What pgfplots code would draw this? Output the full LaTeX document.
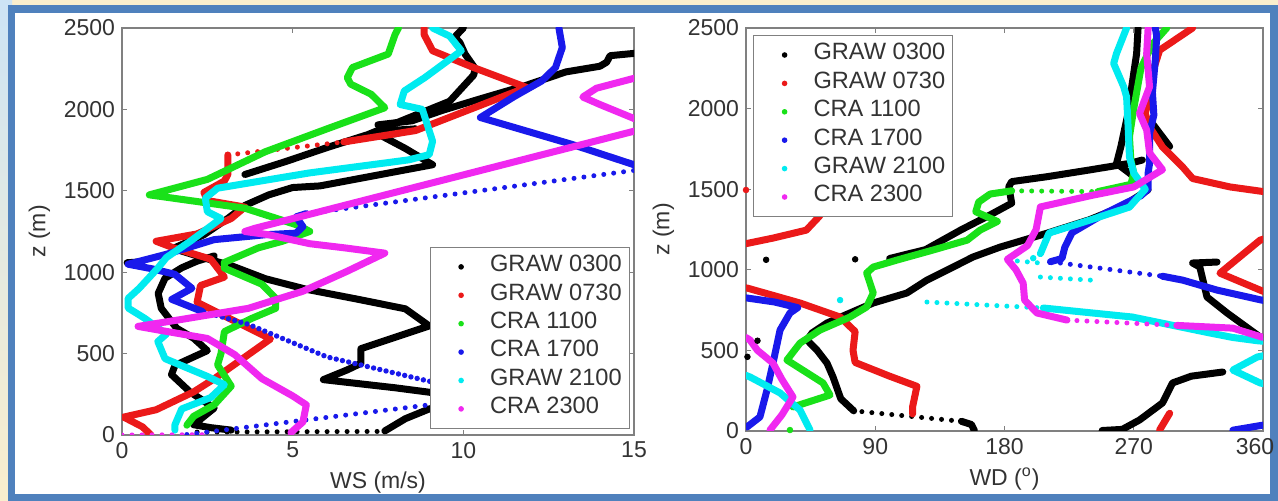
\documentclass[border=0pt]{standalone}
\usepackage{fontspec}
\setmainfont{Liberation Sans}
\usepackage{pgfplots}
\pgfplotsset{compat=1.18}

\definecolor{axgray}{RGB}{128,128,128}
\definecolor{lbl}{RGB}{51,51,51}
\definecolor{mred}{RGB}{235,25,25}
\definecolor{mgreen}{RGB}{25,225,25}
\definecolor{mblue}{RGB}{25,25,235}
\definecolor{mcyan}{RGB}{0,235,240}
\definecolor{mmag}{RGB}{240,40,240}
\definecolor{frameblue}{RGB}{79,129,189}
\definecolor{bgyel}{RGB}{250,238,205}
\definecolor{bgblue}{RGB}{205,228,245}

\tikzset{
  ser/.style={line width=3.5pt, line join=round, line cap=round, mark=none},
  sp/.style={line width=2.5pt, line cap=round, dash pattern=on 0pt off 5pt, mark=none},
  spd/.style={line width=2.7pt, line cap=round, dash pattern=on 0pt off 3.2pt, mark=none},
  dots/.style={only marks, mark=*, mark size=1.4pt},
}
\newcommand{\lfont}{\fontsize{11.5}{13}\selectfont}
\newcommand{\legfont}{\fontsize{11.8}{13}\selectfont}

\pgfplotsset{
  profile/.style={
    scale only axis,
    axis line style={draw=axgray, line width=0.6pt},
    tick style={draw=axgray, line width=0.6pt},
    major tick length=2.5pt,
    tick align=inside,
    tick label style={font=\lfont, text=lbl},
    label style={font=\lfont, text=lbl},
    /pgf/number format/assume math mode=true,
    /pgf/number format/1000 sep={},
    ymin=0, ymax=2500, ytick={0,500,1000,1500,2000,2500},
    ylabel={z (m)},
    clip=true,
    legend image code/.code={%
      \path[draw=none, fill=none] (0pt,-3pt) rectangle (26.2pt,3pt);
      \fill[draw=none] (11.7pt,0pt) circle (1.4pt);},
    legend cell align=left,
  },
  profleg/.style={
    legend style={draw=axgray, line width=0.6pt, fill=white, font=\legfont, text=lbl,
      inner xsep=3.8pt, inner ysep=2.6pt,
      nodes={inner xsep=0pt, inner ysep=0pt, text height=9.5pt, text depth=4.7pt}},
  },
}

\begin{document}
\begin{tikzpicture}[x=1pt,y=1pt]
\useasboundingbox (0,0) rectangle (639,250.5);
% slide background and frame
\fill[bgyel] (0,0) rectangle (639,250.5);
\shade[top color=bgblue, bottom color=bgyel] (0,0) rectangle (6,250.5);
\fill[white] (5.75,1.5) rectangle (637,246);
\draw[frameblue, line width=3.8pt] (5.75,1.5) rectangle (637,246);

% ---------------- wind speed ----------------
\begin{axis}[profile, profleg,
  at={(61pt,33pt)}, anchor=south west, width=256pt, height=203.5pt,
  xmin=0, xmax=15, xtick={0,5,10,15},
  xlabel={WS (m/s)},
  legend style={at={(axis description cs:0.992,0.015)}, anchor=south east},
]
% GRAW 0300
\addplot[ser, black] coordinates {(7.7,25) (8.3,100) (9.0,160) (10.0,205) (10.2,230) (8.0,290) (5.9,340) (6.6,400) (7.0,440) (7.0,530) (9.0,670) (8.3,775) (7.0,830) (5.4,895) (4.2,960) (3.2,1040) (2.2,1100) (1.5,1146) (2.4,1230) (3.1,1330) (3.6,1410) (4.3,1475) (5.0,1520) (5.8,1530) (9.1,1660) (8.3,1760) (7.4,1860) (8.0,1850) (8.6,1880)};
\addplot[ser, black, forget plot] coordinates {(3.2,30) (2.6,45) (2.1,63) (2.7,165) (2.3,222) (2.0,263) (1.45,371) (1.55,427) (2.5,518) (2.1,594) (1.6,656) (1.15,778) (1.06,870) (1.26,963) (1.75,1027) (2.2,1068) (2.7,1100)};
\addplot[ser, black, forget plot] coordinates {(3.6,1600) (4.8,1680) (6.0,1765) (7.2,1845) (8.4,1948) (9.6,2050) (10.3,2210) (10.35,2250) (10.05,2340) (9.9,2410) (9.75,2445) (10.0,2500)};
\addplot[ser, black, forget plot] coordinates {(15.3,2350) (14.3,2330) (14.2,2290) (14.0,2265) (13.0,2230) (11.8,2145) (10.5,2065) (9.4,1995) (8.5,1930) (7.5,1905) (7.8,1870) (8.6,1880)};
\addplot[ser, black, forget plot] coordinates {(0.15,1058) (0.45,1062)};
\addplot[sp, black, forget plot] coordinates {(2.2,18) (7.7,22)};
% GRAW 0730
\addplot[ser, mred] coordinates {(0.85,0) (0.6,50) (0.05,110) (1.0,155) (2.1,265) (2.7,345) (4.35,590) (3.3,700) (2.2,815) (2.3,918) (3.0,970) (2.6,1080) (1.5,1150) (1.0,1190) (2.2,1235) (3.2,1330) (3.6,1400) (2.5,1440) (2.4,1490) (3.0,1560) (3.1,1600) (3.1,1720)};
\addplot[sp, mred, forget plot] coordinates {(3.1,1720) (6.5,1800)};
\addplot[ser, mred, forget plot] coordinates {(6.5,1800) (8.6,1870) (11.85,2135) (10.3,2257) (9.1,2360) (8.85,2460) (8.85,2500)};
% CRA 1100
\addplot[ser, mgreen] coordinates {(1.9,60) (2.1,115) (2.7,185) (3.2,300) (2.8,430) (2.9,500) (3.0,635) (3.8,716) (4.5,778) (4.5,840) (4.1,926) (3.0,1025) (3.0,1060) (4.0,1150) (4.7,1190) (5.5,1250) (5.2,1285) (3.6,1393) (0.8,1475) (2.5,1570) (4.2,1740) (6.0,1880) (7.7,2010) (7.3,2093) (6.7,2155) (6.6,2195) (6.75,2257) (7.8,2340) (8.0,2460) (8.1,2500)};
% CRA 1700
\addplot[ser, mblue] coordinates {(15,1660) (13.2,1784) (10.5,1950) (11.5,2080) (12.3,2175) (12.7,2257) (12.9,2380) (12.8,2500)};
\addplot[sp, mblue, forget plot] coordinates {(1.9,3) (9.0,185) (11.5,240)};
\addplot[spd, mblue, forget plot] coordinates {(10.5,290) (9.0,330) (6.0,480) (3.7,680) (2.35,759)};
\addplot[ser, mblue, forget plot] coordinates {(2.35,759) (1.46,833) (2.05,901) (1.55,987) (0.9,1020) (0.18,1049) (1.3,1110) (2.7,1200) (4.2,1230) (5.1,1240) (5.3,1280) (5.1,1340) (5.4,1360)};
\addplot[sp, mblue, forget plot] coordinates {(5.4,1360) (15,1625)};
% GRAW 2100
\addplot[ser, mcyan] coordinates {(1.55,30) (1.55,62) (1.75,160) (2.6,230) (3.0,309) (2.5,360) (1.26,469) (1.05,574) (1.3,620) (0.67,716) (0.18,780) (0.18,839) (0.5,900) (1.05,1025) (1.3,1090) (2.0,1190) (2.9,1330) (2.5,1372) (2.44,1455) (2.8,1516) (5.5,1610) (8.4,1690) (9.0,1722) (9.1,1804) (8.8,2000) (8.15,2030) (8.27,2113) (8.87,2195) (9.94,2360) (9.6,2450) (9.1,2500)};
% CRA 2300
\addplot[ser, mmag] coordinates {(4.95,15) (5.3,80) (5.4,185) (5.0,240) (4.1,346) (3.3,494) (2.5,593) (1.2,640) (0.47,667) (1.75,710) (3.7,778) (5.3,883) (6.6,1006) (7.7,1117) (6.5,1150) (5.5,1175) (4.3,1230) (3.6,1250) (3.9,1270) (15,1866) (15.6,1905) (15,1944) (14.0,2030) (13.5,2076) (13.9,2130) (15,2191) (15.5,2210)};
\addplot[sp, mmag, forget plot] coordinates {(0,0) (2.4,2)};
\legend{GRAW 0300, GRAW 0730, CRA 1100, CRA 1700, GRAW 2100, CRA 2300}
\end{axis}

% ---------------- wind direction ----------------
\begin{axis}[profile, profleg,
  at={(373pt,35pt)}, anchor=south west, width=258.5pt, height=201.5pt,
  xmin=0, xmax=360, xtick={0,90,180,270,360},
  xticklabels={0,90,180,270,\kern-8pt 360},
  xlabel={WD (\textsuperscript{o})},
  legend style={at={(axis description cs:0.0135,0.9826)}, anchor=north west},
]
% GRAW 0300
\addplot[ser, black] coordinates {(75,125) (66,200) (60.6,335) (56.4,421) (49.4,502) (42.5,564) (46,608) (56.4,670) (72.4,732) (88.6,794) (112,856) (126,936) (140,998) (158,1079) (177,1141) (210,1228) (239,1310) (262,1393) (280,1496) (267,1600) (258,1660) (261,1763) (266,1970) (268.6,2135) (272,2342) (273,2500)};
\addplot[ser, black, forget plot] coordinates {(159,3) (157,40) (150,60)};
\addplot[sp, black, forget plot] coordinates {(150,60) (75,125)};
\addplot[ser, black, forget plot] coordinates {(100,1070) (125,1125) (150,1249) (168,1331) (185,1413) (183,1516) (185,1547) (210,1578) (239,1619) (267,1660) (276,1681)};
\addplot[ser, black, forget plot] coordinates {(281,1930) (295,1765)};
\addplot[ser, black, forget plot] coordinates {(248,3) (262,10) (274,68) (290,174) (297,298) (310,340) (332,366)};
\addplot[ser, black, forget plot] coordinates {(328,1048) (311,1042) (316,1017) (321,831) (335,732) (358,583) (362,575)};
\addplot[dots, black, forget plot] coordinates {(14,1062) (76,1065) (1,460) (8,560)};
% GRAW 0730
\addplot[ser, mred] coordinates {(116,106) (116,150) (119,277) (100,340) (76,425) (74.5,500) (76,617) (65.5,707) (37.6,794) (0.7,887) (-5,890)};
\addplot[ser, mred, forget plot] coordinates {(0,1162) (19,1197) (42,1246) (51,1331) (56,1400)};
\addplot[ser, mred, forget plot] coordinates {(311,2500) (288,2362) (283.6,2238) (281,2073) (278,1970) (281,1886) (290,1762) (304,1638) (311,1566) (337,1514) (362,1483)};
\addplot[ser, mred, forget plot] coordinates {(362,1195) (358,1184) (330,979) (358,874) (362,860)};
\addplot[ser, mred, forget plot] coordinates {(295,110) (288,6)};
\addplot[dots, mred, forget plot] coordinates {(0,1495)};
% CRA 1100
\addplot[ser, mgreen] coordinates {(32.7,149) (58.5,223) (53.6,298) (28.5,440) (37.6,545) (51.5,626) (72.4,707) (84,769) (88.6,856) (84,980) (88.6,1017) (105,1060) (130,1122) (154,1184) (163,1246) (175,1300) (160,1360) (162,1420) (170,1470) (185,1490)};
\addplot[sp, mgreen, forget plot] coordinates {(185,1490) (245,1485)};
\addplot[ser, mgreen, forget plot] coordinates {(245,1485) (268,1530) (270,1600) (268,1680) (267,1825) (270,2000) (275,2250) (283,2400) (290,2470) (293,2500)};
\addplot[dots, mgreen, forget plot] coordinates {(30.6,6)};
% CRA 1700
\addplot[ser, mblue] coordinates {(0.7,25) (9.7,87) (14.6,254) (18.8,421) (23.7,626) (30.6,732) (36,765) (20,800) (0.7,825) (-3,827)};
\addplot[ser, mblue, forget plot] coordinates {(212,1050) (220,1070) (222,1140) (227,1230) (250,1350) (275,1460) (280,1500) (280,1600) (281,1660) (281,1846) (284,1960) (283,2100) (285,2300) (286,2450) (285,2500)};
\addplot[sp, mblue, forget plot] coordinates {(212,1050) (290,960)};
\addplot[ser, mblue, forget plot] coordinates {(290,960) (304,936) (328,874) (359,812) (362,808)};
\addplot[ser, mblue, forget plot] coordinates {(339,5) (359,35) (362,38)};
% GRAW 2100
\addplot[ser, mcyan] coordinates {(44.6,6) (37.6,130) (23.7,236) (2.8,335) (0,345)};
\addplot[sp, mcyan, forget plot] coordinates {(126,800) (207,763)};
\addplot[ser, mcyan, forget plot] coordinates {(207,763) (269,707) (323,608) (339,580) (356,560) (362,555)};
\addplot[ser, mcyan, forget plot] coordinates {(362,470) (356,459) (339,378) (358,298) (362,290)};
\addplot[sp, mcyan, forget plot] coordinates {(182,1060) (205,1042)};
\addplot[sp, mcyan, forget plot] coordinates {(205,955) (240,936)};
\addplot[ser, mcyan, forget plot] coordinates {(205,1100) (211,1228) (240,1310) (267,1389) (278,1500) (270,1600) (267,1700) (266,1900) (265,2073) (263,2135) (256,2280) (258,2342) (265,2500)};
\addplot[dots, mcyan, forget plot] coordinates {(65.5,812) (200,1072)};
% CRA 2300
\addplot[ser, mmag] coordinates {(16.7,6) (25,100) (32.7,211) (25,320) (18.8,421) (8,500) (2.8,564) (0,580)};
\addplot[ser, mmag, forget plot] coordinates {(362,580) (359,583) (339,638) (300,655)};
\addplot[sp, mmag, forget plot] coordinates {(300,655) (223.5,688)};
\addplot[ser, mmag, forget plot] coordinates {(223.5,688) (202.6,732) (194,812) (193,917) (188,1000) (182,1065) (196,1150) (202,1250) (205,1390) (240,1460) (270,1514) (290,1621) (281,1725) (279,1867) (274,1970) (281,2135) (279,2342) (280,2500)};
\legend{GRAW 0300, GRAW 0730, CRA 1100, CRA 1700, GRAW 2100, CRA 2300}
\end{axis}
\end{tikzpicture}
\end{document}
